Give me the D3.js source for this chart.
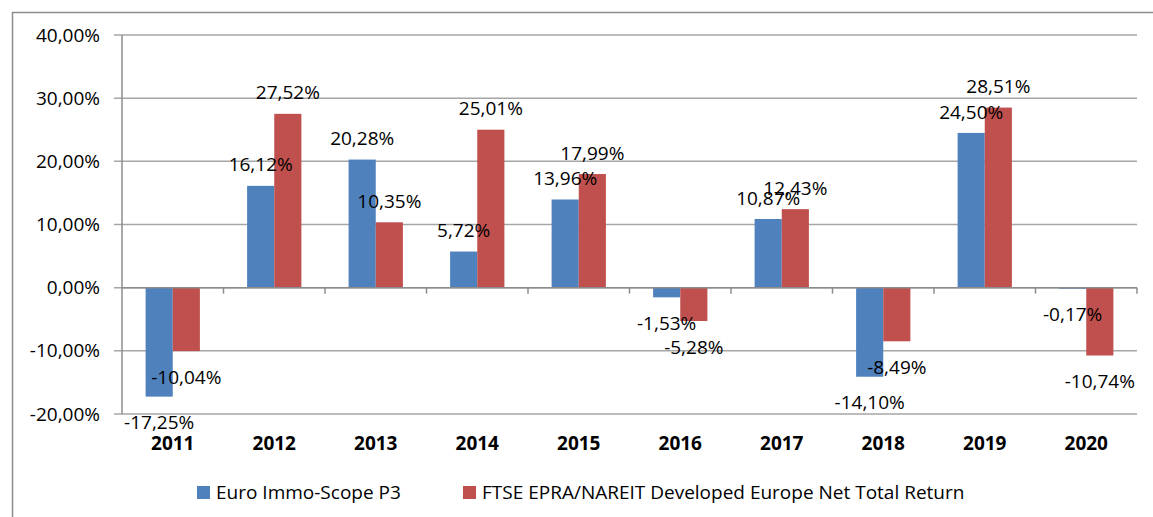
<!DOCTYPE html>
<html>
<head>
<meta charset="utf-8">
<script src="https://cdn.jsdelivr.net/npm/d3@7"></script>
<style>
  body { margin: 0; background: #fff; }
  svg { display: block; font-family: "Open Sans", "Noto Sans", sans-serif; }
</style>
</head>
<body>
<svg id="chart" width="1153" height="517"></svg>
<script>
  // ---- data ----
  const years = ["2011", "2012", "2013", "2014", "2015", "2016", "2017", "2018", "2019", "2020"];
  const euroImmo = [-17.25, 16.12, 20.28, 5.72, 13.96, -1.53, 10.87, -14.10, 24.50, -0.17];
  const ftseEpra = [-10.04, 27.52, 10.35, 25.01, 17.99, -5.28, 12.43, -8.49, 28.51, -10.74];
  const yTicks = [-20, -10, 0, 10, 20, 30, 40];
  const seriesNames = ["Euro Immo-Scope P3", "FTSE EPRA/NAREIT Developed Europe Net Total Return"];
  const seriesColors = ["#4F81BD", "#C0504D"];

  const svg = d3.select("#chart");

  // outer frame (only top/left edges are visible in the crop)
  svg.append("rect")
    .attr("x", 12.5).attr("y", 12.5).attr("width", 1300).attr("height", 700)
    .attr("fill", "none").attr("stroke", "#8c8c8c").attr("stroke-width", 1.5);

  const plotL = 122, plotR = 1137, plotT = 35, plotB = 414;

  const x = d3.scaleBand().domain(years).range([plotL, plotR]).paddingInner(0).paddingOuter(0);
  const xs = d3.scaleBand().domain([0, 1]).range([0, x.bandwidth()]).paddingInner(0).paddingOuter(0.87);
  const y = d3.scaleLinear().domain([-20, 40]).range([plotB, plotT]);

  // European style: comma decimal, plain hyphen for minus
  const fmt = v => d3.format(".2f")(v).replace(".", ",").replace("\u2212", "-") + "%";

  // Grid lines
  svg.append("g")
    .selectAll("line")
    .data(yTicks)
    .join("line")
    .attr("x1", plotL - 8).attr("x2", plotR)
    .attr("y1", d => y(d)).attr("y2", d => y(d))
    .attr("stroke", "#a6a6a6").attr("stroke-width", 1.5);

  // Y axis
  const yAxis = svg.append("g").attr("transform", `translate(${plotL},0)`)
    .call(d3.axisLeft(y).tickValues(yTicks).tickSize(0).tickPadding(22).tickFormat(fmt));
  yAxis.select(".domain").remove();
  yAxis.selectAll("text").attr("fill", "#000").attr("font-size", 19)
    .attr("font-family", "'Open Sans', sans-serif");
  svg.append("line")
    .attr("x1", plotL).attr("x2", plotL).attr("y1", plotT).attr("y2", plotB)
    .attr("stroke", "#8c8c8c").attr("stroke-width", 1.5);

  // category ticks on the zero line
  svg.append("g")
    .selectAll("line")
    .data(years)
    .join("line")
    .attr("x1", d => x(d) + x.bandwidth())
    .attr("x2", d => x(d) + x.bandwidth())
    .attr("y1", y(0)).attr("y2", y(0) + 6)
    .attr("stroke", "#8c8c8c").attr("stroke-width", 1.5);

  // Bars
  const series = [euroImmo, ftseEpra];
  series.forEach((vals, s) => {
    svg.append("g").selectAll("rect")
      .data(vals)
      .join("rect")
      .attr("x", (d, i) => x(years[i]) + xs(s))
      .attr("width", xs.bandwidth())
      .attr("y", d => y(Math.max(0, d)))
      .attr("height", d => Math.abs(y(d) - y(0)))
      .attr("fill", seriesColors[s]);
  });

  // zero line over bars
  svg.append("line")
    .attr("x1", plotL).attr("x2", plotR).attr("y1", y(0)).attr("y2", y(0))
    .attr("stroke", "#8c8c8c").attr("stroke-width", 1.5);

  // Value labels
  series.forEach((vals, s) => {
    svg.append("g").selectAll("text")
      .data(vals)
      .join("text")
      .attr("x", (d, i) => x(years[i]) + xs(s) + xs.bandwidth() / 2)
      .attr("y", d => d >= 0 ? y(d) - 21 : y(d) + 26)
      .attr("dy", "0.35em")
      .attr("text-anchor", "middle")
      .attr("font-size", 19).attr("fill", "#000")
      .text(d => fmt(d));
  });

  // Category labels
  svg.append("g").selectAll("text")
    .data(years)
    .join("text")
    .attr("x", d => x(d) + x.bandwidth() / 2)
    .attr("y", 443).attr("dy", "0.35em")
    .attr("text-anchor", "middle")
    .attr("font-size", 19).attr("font-weight", 700).attr("fill", "#000")
    .text(d => d);

  // Legend
  const legendX = [197, 463];
  const legend = svg.append("g").selectAll("g")
    .data(seriesNames)
    .join("g")
    .attr("transform", (d, i) => `translate(${legendX[i]},486)`);
  legend.append("rect").attr("width", 13).attr("height", 13)
    .attr("fill", (d, i) => seriesColors[i]);
  legend.append("text").attr("x", 19).attr("y", 6.5).attr("dy", "0.35em")
    .attr("font-size", 19).attr("fill", "#000")
    .text(d => d);
</script>
</body>
</html>
